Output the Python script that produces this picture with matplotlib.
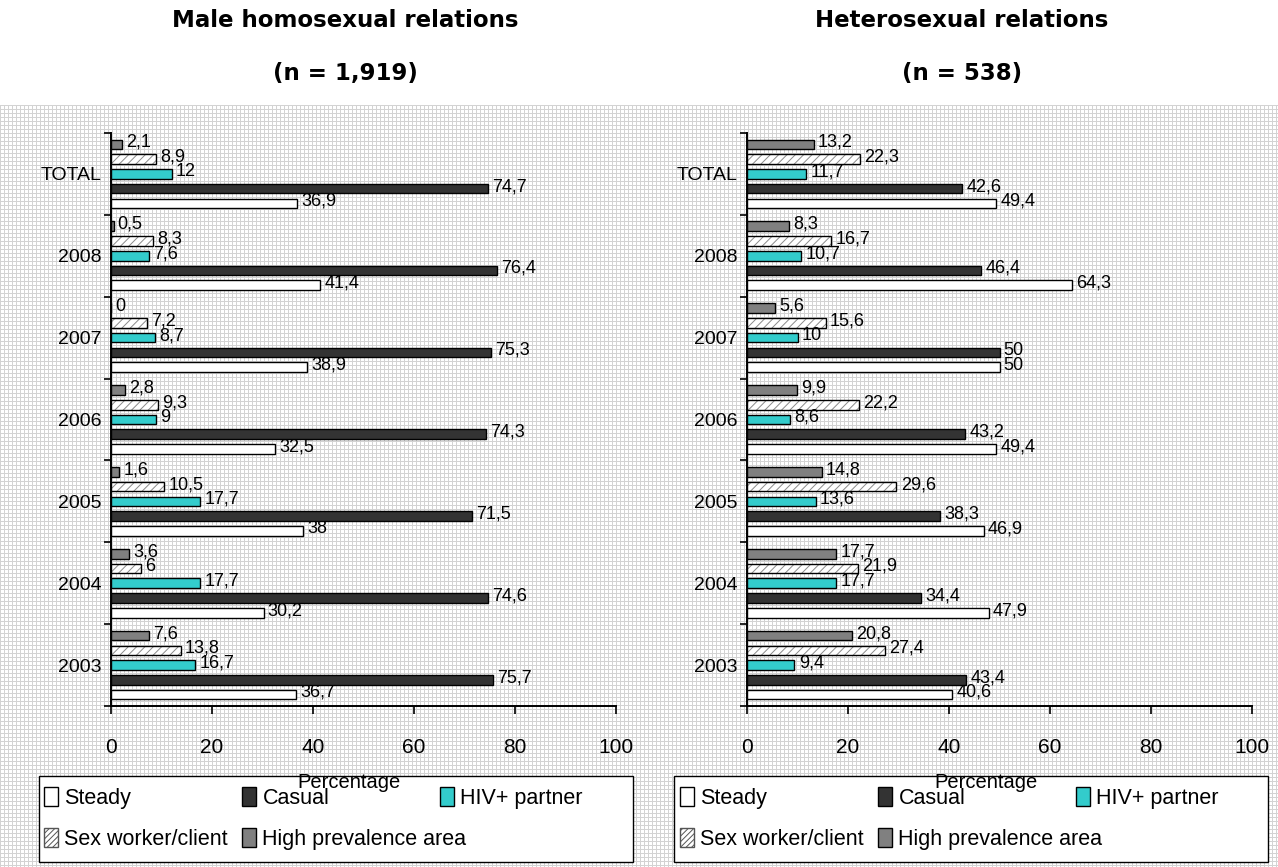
import matplotlib
matplotlib.use('Agg')
import matplotlib.pyplot as plt
from matplotlib.patches import Patch, Rectangle
import numpy as np

plt.rcParams['font.family'] = ['Liberation Sans Narrow', 'Liberation Sans', 'DejaVu Sans']
plt.rcParams['hatch.linewidth'] = 0.7

# data
categories = ['2003', '2004', '2005', '2006', '2007', '2008', 'TOTAL']
series_names = ['Steady', 'Casual', 'HIV+ partner', 'Sex worker/client', 'High prevalence area']

msm_steady = [36.7, 30.2, 38, 32.5, 38.9, 41.4, 36.9]
msm_casual = [75.7, 74.6, 71.5, 74.3, 75.3, 76.4, 74.7]
msm_hiv = [16.7, 17.7, 17.7, 9, 8.7, 7.6, 12]
msm_sexwork = [13.8, 6, 10.5, 9.3, 7.2, 8.3, 8.9]
msm_highprev = [7.6, 3.6, 1.6, 2.8, 0, 0.5, 2.1]

het_steady = [40.6, 47.9, 46.9, 49.4, 50, 64.3, 49.4]
het_casual = [43.4, 34.4, 38.3, 43.2, 50, 46.4, 42.6]
het_hiv = [9.4, 17.7, 13.6, 8.6, 10, 10.7, 11.7]
het_sexwork = [27.4, 21.9, 29.6, 22.2, 15.6, 16.7, 22.3]
het_highprev = [20.8, 17.7, 14.8, 9.9, 5.6, 8.3, 13.2]

panels = [
    ('Male homosexual relations', '(n = 1,919)',
     [msm_steady, msm_casual, msm_hiv, msm_sexwork, msm_highprev]),
    ('Heterosexual relations', '(n = 538)',
     [het_steady, het_casual, het_hiv, het_sexwork, het_highprev]),
]

# styles
face = ['white', '#333333', '#33CCCC', 'white', '#808080']
hatches = [None, None, None, '////', None]
pitch = 0.18
bar_h = 0.118

W, H = 1278, 867
fig = plt.figure(figsize=(W / 100, H / 100), dpi=100)
fig.patch.set_facecolor('white')

# light grid texture behind the charts
bg_h = 762
tex = np.ones((bg_h, W))
tex[::4, :] = 0.83
tex[:, ::4] = 0.83
bg = fig.add_axes([0, 0, 1, bg_h / H])
bg.imshow(tex, cmap='gray', vmin=0, vmax=1, interpolation='nearest', aspect='auto')
bg.axis('off')
bg.set_zorder(-10)


def fmt(v):
    return f'{v:g}'.replace('.', ',')


ax_left_px = [111, 747]
title_cx = [345, 962]
xlabel_cx = [349, 986]
legend_box_px = [(39, 633), (674, 1268)]
legend_cols_px = [[44, 242, 440], [680, 878, 1076]]
legend_rows_px = [798, 839]

y = np.arange(len(categories))
for p, (title, sub, series) in enumerate(panels):
    ax = fig.add_axes([ax_left_px[p] / W, (H - 706) / H, 505 / W, 573 / H])
    ax.set_facecolor('none')
    for i, vals in enumerate(series):
        yy = y + (i - 2) * pitch
        if hatches[i]:
            ax.barh(yy, vals, height=bar_h, color='white', edgecolor='#8a8a8a',
                    hatch=hatches[i], linewidth=0, zorder=2)
            ax.barh(yy, vals, height=bar_h, fill=False, edgecolor='black',
                    linewidth=1.0, zorder=3)
        else:
            ax.barh(yy, vals, height=bar_h, color=face[i], edgecolor='black',
                    linewidth=1.0, zorder=3)
        for yv, v in zip(yy, vals):
            ax.annotate(fmt(v), xy=(v, yv), xytext=(3, 1.5), textcoords='offset points',
                        ha='left', va='center', fontsize=13)

    ax.set_xlim(0, 100)
    ax.set_ylim(-0.5, len(categories) - 0.5)
    ax.set_xticks(range(0, 101, 20))
    ax.set_yticks(np.arange(-0.5, len(categories), 1))
    ax.set_yticklabels([])
    ax.set_yticks(y, minor=True)
    ax.set_yticklabels(categories, minor=True)
    ax.tick_params(axis='y', which='major', direction='out', length=5, width=1.2)
    ax.tick_params(axis='y', which='minor', length=0, pad=7, labelsize=14)
    ax.tick_params(axis='x', direction='out', length=6, width=1.2, pad=17, labelsize=15)
    for s in ['top', 'right']:
        ax.spines[s].set_visible(False)
    for s in ['left', 'bottom']:
        ax.spines[s].set_linewidth(1.4)

    fig.text(title_cx[p] / W, 1 - 27 / H, title, ha='center', va='baseline',
             fontsize=16.5, fontweight='bold', family='DejaVu Sans')
    fig.text(title_cx[p] / W, 1 - 80 / H, sub, ha='center', va='baseline',
             fontsize=16.5, fontweight='bold', family='DejaVu Sans')

    # legend frame + entries in the original grid layout
    x0, x1 = legend_box_px[p]
    fig.add_artist(Rectangle((x0 / W, (H - 862) / H), (x1 - x0) / W, 86 / H,
                             transform=fig.transFigure, facecolor='white',
                             edgecolor='black', linewidth=1.0, zorder=1))
    slots = [(0, 0), (0, 1), (0, 2), (1, 0), (1, 1)]
    for i, name in enumerate(series_names):
        r, c = slots[i]
        h = Patch(facecolor=face[i], edgecolor='black', linewidth=1.0)
        if hatches[i]:
            h = Patch(facecolor='white', edgecolor='#555555', hatch='//////', linewidth=1.0)
        fig.legend(handles=[h], labels=[name], loc='center left',
                   bbox_to_anchor=(legend_cols_px[p][c] / W, 1 - legend_rows_px[r] / H),
                   frameon=False, borderpad=0, borderaxespad=0, handlelength=0.65,
                   handleheight=1.0, handletextpad=0.3, fontsize=15.5)

    fig.text(xlabel_cx[p] / W, 1 - 782 / H, 'Percentage', ha='center', va='center',
             fontsize=14.5, zorder=8)

plt.savefig('out.png', dpi=100, facecolor='white')
plt.close()
